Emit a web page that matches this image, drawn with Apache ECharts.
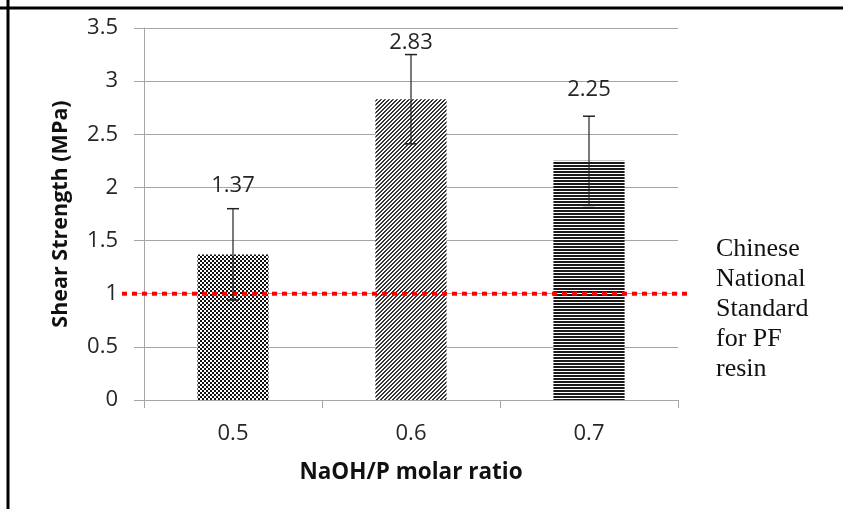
<!DOCTYPE html>
<html>
<head>
<meta charset="utf-8">
<script src="https://cdn.jsdelivr.net/npm/echarts@6/dist/echarts.min.js"></script>
<style>
html,body{margin:0;padding:0;background:#fff;}
#chart{width:843px;height:509px;}
</style>
</head>
<body>
<div id="chart"></div>
<script>
// ---- data ----
const categories = ['0.5', '0.6', '0.7'];
const means = [1.37, 2.83, 2.25];
const errors = [0.43, 0.42, 0.42];
const standardValue = 1;
const yMin = 0, yMax = 3.5, yStep = 0.5;
const xTitle = 'NaOH/P molar ratio';
const yTitle = 'Shear Strength (MPa)';
const noteLines = ['Chinese', 'National', 'Standard', 'for PF', 'resin'];

// ---- styles ----
const labelLift = [23, 12, 26];
const TXT = '#262626';
const GRID = '#a6a6a6';

function makePattern(kind) {
  const c = document.createElement('canvas');
  const ctx = c.getContext('2d');
  if (kind === 'checker') {
    c.width = 4; c.height = 4;
    ctx.fillStyle = '#fff'; ctx.fillRect(0, 0, 4, 4);
    ctx.fillStyle = '#111';
    ctx.fillRect(0, 0, 2, 2); ctx.fillRect(2, 2, 2, 2);
  } else if (kind === 'diag') {
    c.width = 4; c.height = 4;
    ctx.fillStyle = '#fff'; ctx.fillRect(0, 0, 4, 4);
    ctx.fillStyle = '#333';
    ctx.fillRect(3, 0, 1, 1); ctx.fillRect(2, 1, 1, 1); ctx.fillRect(1, 2, 1, 1); ctx.fillRect(0, 3, 1, 1);
    ctx.fillRect(0, 0, 1, 1); ctx.fillRect(3, 1, 1, 1); ctx.fillRect(2, 2, 1, 1); ctx.fillRect(1, 3, 1, 1);
  } else {
    c.width = 3; c.height = 3;
    ctx.fillStyle = '#fff'; ctx.fillRect(0, 0, 3, 3);
    ctx.fillStyle = '#1a1a1a';
    ctx.fillRect(0, 0, 3, 2);
  }
  return { image: c, repeat: 'repeat' };
}
const patterns = [makePattern('checker'), makePattern('diag'), makePattern('horiz')];

const chart = echarts.init(document.getElementById('chart'), null, { renderer: 'canvas' });

const option = {
  backgroundColor: '#fff',
  animation: false,
  grid: { left: 144, right: 165, top: 28, bottom: 109 },
  xAxis: {
    type: 'category',
    data: categories,
    name: xTitle,
    nameLocation: 'middle',
    nameGap: 61,
    nameTextStyle: { fontFamily: 'Open Sans', fontWeight: 'bold', fontSize: 22.5, color: '#111' },
    axisLine: { show: true, lineStyle: { color: GRID, width: 1 } },
    axisTick: { show: true, length: 8, alignWithLabel: false, lineStyle: { color: GRID } },
    axisLabel: { fontFamily: 'Open Sans', fontSize: 22, color: TXT, margin: 23 },
    splitLine: { show: false }
  },
  yAxis: {
    type: 'value',
    min: yMin, max: yMax, interval: yStep,
    name: yTitle,
    nameLocation: 'middle',
    nameGap: 72,
    nameTextStyle: { fontFamily: 'Open Sans', fontWeight: 'bold', fontSize: 21.5, color: '#111' },
    axisLine: { show: true, lineStyle: { color: GRID, width: 1 } },
    axisTick: { show: true, length: 10, lineStyle: { color: GRID } },
    axisLabel: { fontFamily: 'Open Sans', fontSize: 22, color: TXT, margin: 26 },
    splitLine: { show: true, lineStyle: { color: GRID, width: 1 } }
  },
  graphic: [
    { type: 'line', shape: { x1: 8, y1: 0, x2: 8, y2: 509 }, style: { stroke: '#000', lineWidth: 3 }, z: 100 },
    { type: 'line', shape: { x1: 0, y1: 8, x2: 843, y2: 8 }, style: { stroke: '#000', lineWidth: 3 }, z: 100 },
    {
      type: 'text', left: 716, top: 234, z: 100,
      style: {
        text: noteLines.join('\n'),
        fontFamily: 'Liberation Serif', fontSize: 26, lineHeight: 30, fill: '#111'
      }
    }
  ],
  series: [
    {
      type: 'bar',
      data: means.map((v, i) => ({ value: v, itemStyle: { color: patterns[i] } })),
      barWidth: '40%',
      z: 2
    },
    {
      type: 'custom',
      clip: false,
      z: 5,
      data: [[0, standardValue]],
      renderItem: function (params, api) {
        const cs = params.coordSys;
        const y = api.coord([0, api.value(1)])[1];
        return {
          type: 'line',
          shape: { x1: cs.x - 22, y1: y, x2: cs.x + cs.width + 14, y2: y },
          style: { stroke: '#ff0000', lineWidth: 4, lineDash: [5, 5] }
        };
      }
    },
    {
      type: 'custom',
      clip: false,
      z: 6,
      data: means.map((m, i) => [i, m, errors[i]]),
      renderItem: function (params, api) {
        const i = params.dataIndex;
        const x = api.value(0), m = api.value(1), e = api.value(2);
        const top = api.coord([x, m + e]);
        const bot = api.coord([x, m - e]);
        const hw = 6;
        return {
          type: 'group',
          children: [
            { type: 'line', shape: { x1: top[0], y1: top[1], x2: bot[0], y2: bot[1] }, style: { stroke: '#222', lineWidth: 1.2 } },
            { type: 'line', shape: { x1: top[0] - hw, y1: top[1], x2: top[0] + hw, y2: top[1] }, style: { stroke: '#222', lineWidth: 1.5 } },
            { type: 'line', shape: { x1: bot[0] - hw, y1: bot[1], x2: bot[0] + hw, y2: bot[1] }, style: { stroke: '#222', lineWidth: 1.5 } },
            {
              type: 'text',
              style: {
                text: m.toFixed(2), x: top[0], y: top[1] - labelLift[i],
                align: 'center', verticalAlign: 'middle',
                fontFamily: 'Open Sans', fontSize: 22, fill: TXT
              }
            }
          ]
        };
      }
    }
  ]
};
chart.setOption(option);
</script>
</body>
</html>
